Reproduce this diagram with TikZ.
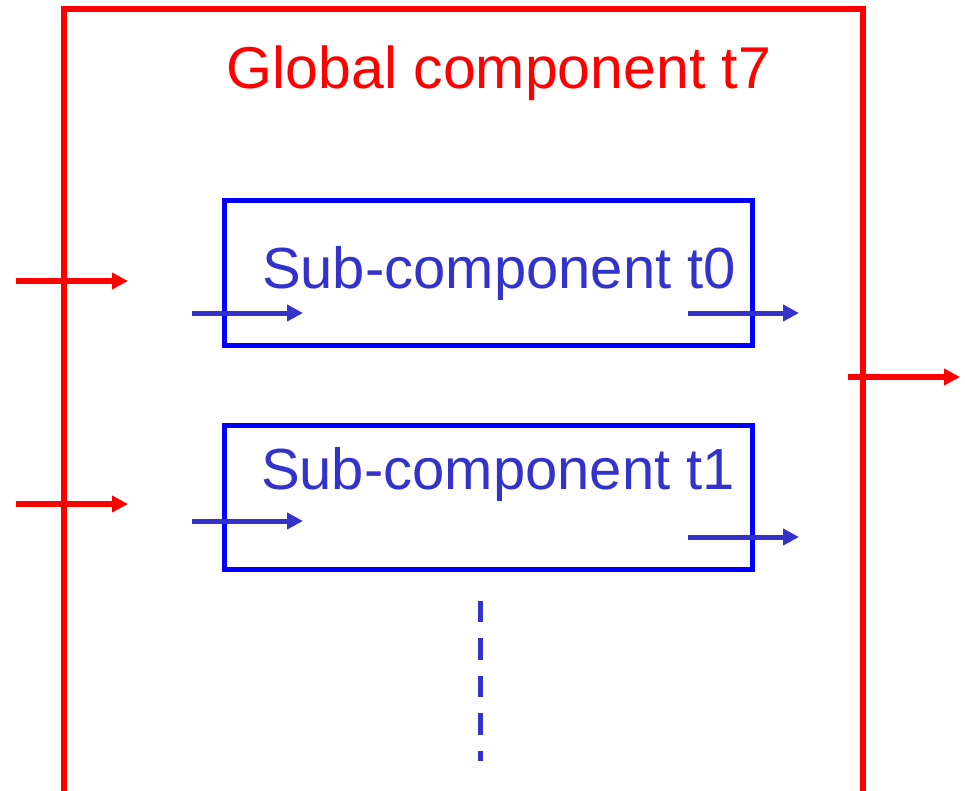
\documentclass[tikz,border=0pt]{standalone}
\usepackage{fontspec}
\setmainfont{Liberation Sans}
\usepackage{xcolor}
\usetikzlibrary{arrows.meta, positioning}
\definecolor{subblue}{RGB}{51,51,204}

\begin{document}
\begin{tikzpicture}[x=1pt, y=-1pt,
    redarrow/.style={red, line width=6pt, -{Triangle[length=16pt,width=16pt]}},
    bluearrow/.style={subblue, line width=5pt, -{Triangle[length=16pt,width=16pt]}},
    subbox/.style={draw=blue, line width=5pt, minimum width=528pt, minimum height=144pt, inner sep=0pt},
    bigtext/.style={font=\fontsize{58}{60}\selectfont, inner sep=0pt, anchor=base}]
\useasboundingbox (0,0) rectangle (965,791);

% Global component
\node[draw=red, line width=6pt, minimum width=799pt, minimum height=786pt, inner sep=0pt] (glob) at (463.5,402) {};
\node[bigtext, red, font=\fontsize{59}{61}\selectfont] (globlab) at (499,89) {Global component t7};

% Sub-components
\foreach \i/\y in {0/273, 1/497} {
    \node[subbox] (sub\i) at (488,\y) {};
}
\node[bigtext, subblue] (sublab0) at (499,288) {Sub-component t0};
\node[bigtext, subblue] (sublab1) at (498,489) {Sub-component t1};

% Global inputs and output
\foreach \name/\x/\y in {gin0/16/281, gin1/16/504, gout/848/377} {
    \coordinate (\name) at (\x,\y);
    \draw[redarrow] (\name) -- ++(112,0);
}

% Sub-component inputs and outputs
\foreach \name/\x/\y in {sin0/192/313, sout0/688/313, sin1/192/521, sout1/688/537} {
    \coordinate (\name) at (\x,\y);
    \draw[bluearrow] (\name) -- ++(111,0);
}

% More sub-components
\coordinate (dtop) at (480,600.7);
\coordinate (dbot) at (480,761);
\draw[subblue, line width=5pt, dash pattern=on 21.5pt off 16pt] (dtop) -- (dbot);
\end{tikzpicture}
\end{document}
